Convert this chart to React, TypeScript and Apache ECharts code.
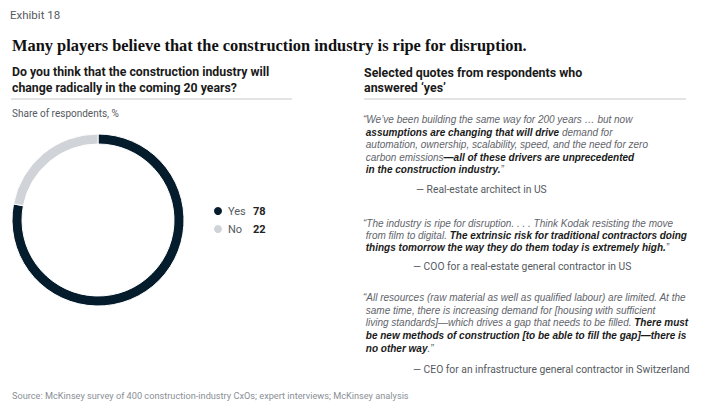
import React, { useEffect, useRef } from "react";
import * as echarts from "echarts";

const categories = ["Yes", "No"];
const shares = [78, 22];
const colors = ["#051c2c", "#d0d3d7"];

const exhibitLabel = "Exhibit 18";
const mainTitle = "Many players believe that the construction industry is ripe for disruption.";
const leftHeading = ["Do you think that the construction industry will", "change radically in the coming 20 years?"];
const unitLabel = "Share of respondents, %";
const rightHeading = ["Selected quotes from respondents who", "answered \u2018yes\u2019"];
const sourceNote = "Source: McKinsey survey of 400 construction-industry CxOs; expert interviews; McKinsey analysis";

// each quote: lines made of [style, text] segments; "n" = normal italic, "b" = bold italic
const quote1: [string, string][][] = [
  [["n", "\u201cWe\u2019ve been building the same way for 200 years \u2026 but now"]],
  [["b", " assumptions are changing that will drive"], ["n", " demand for"]],
  [["n", " automation, ownership, scalability, speed, and the need for zero"]],
  [["n", " carbon emissions"], ["b", "\u2014all of these drivers are unprecedented"]],
  [["b", " in the construction industry."], ["n", "\u201d"]],
];
const author1 = "\u2014 Real-estate architect in US";
const quote2: [string, string][][] = [
  [["n", "\u201cThe industry is ripe for disruption. . . . Think Kodak resisting the move"]],
  [["n", " from film to digital. "], ["b", "The extrinsic risk for traditional contractors doing"]],
  [["b", " things tomorrow the way they do them today is extremely high."], ["n", "\u201d"]],
];
const author2 = "\u2014 COO for a real-estate general contractor in US";
const quote3: [string, string][][] = [
  [["n", "\u201cAll resources (raw material as well as qualified labour) are limited. At the"]],
  [["n", " same time, there is increasing demand for [housing with sufficient"]],
  [["n", " living standards]\u2014which drives a gap that needs to be filled. "], ["b", "There must"]],
  [["b", " be new methods of construction [to be able to fill the gap]\u2014there is"]],
  [["b", " no other way"], ["n", ".\u201d"]],
];
const author3 = "\u2014 CEO for an infrastructure general contractor in Switzerland";

const SANS = "Roboto, 'Liberation Sans', Arial, sans-serif";
const QSANS = "'Liberation Sans', Arial, sans-serif";
const SERIF = "'Liberation Serif', 'DejaVu Serif', serif";

const rich = {
  n: { fontFamily: QSANS, fontStyle: "italic", fontSize: 10, fill: "#5f646b", color: "#5f646b" },
  b: { fontFamily: QSANS, fontStyle: "italic", fontWeight: "bold", fontSize: 10, fill: "#1a1a1a", color: "#1a1a1a" },
};

function quoteLines(lines: [string, string][][], x: number, y0: number, step: number) {
  return lines.map((segs, i) => ({
    type: "text",
    x,
    y: y0 + i * step,
    style: {
      text: segs.map(([k, t]) => `{${k}|${t}}`).join(""),
      rich,
      verticalAlign: "middle",
    },
  }));
}

function plainText(text: string, x: number, y: number, size: number, color: string, weight = "normal", family = SANS) {
  return {
    type: "text",
    x,
    y,
    style: { text, fontSize: size, fill: color, fontWeight: weight, fontFamily: family, verticalAlign: "middle" },
  };
}

export default function App() {
  const ref = useRef<HTMLDivElement>(null);
  useEffect(() => {
    if (!ref.current) return;
    const chart = echarts.init(ref.current, undefined, { renderer: "svg" });
    const valueOf: Record<string, number> = {};
    categories.forEach((c, i) => (valueOf[c] = shares[i]));
    chart.setOption({
      animation: false,
      backgroundColor: "#ffffff",
      legend: {
        orient: "vertical",
        left: 212,
        top: 205,
        icon: "circle",
        itemWidth: 10,
        itemHeight: 10,
        itemGap: 6,
        padding: 0,
        selectedMode: false,
        data: categories,
        formatter: (name: string) => `{n|${name}}{v|${valueOf[name]}}`,
        textStyle: {
          rich: {
            n: { fontFamily: SANS, fontSize: 11, color: "#555a60", width: 25 },
            v: { fontFamily: SANS, fontSize: 11, fontWeight: "bold", color: "#222" },
          },
        },
      },
      series: [
        {
          type: "pie",
          center: [98, 220],
          radius: [76, 86],
          startAngle: 90,
          clockwise: true,
          label: { show: false },
          labelLine: { show: false },
          emphasis: { disabled: true },
          itemStyle: { borderColor: "#ffffff", borderWidth: 1 },
          data: categories.map((c, i) => ({ name: c, value: shares[i], itemStyle: { color: colors[i] } })),
        },
      ],
      graphic: [
        plainText(exhibitLabel, 10, 15, 11.5, "#555a60"),
        plainText(mainTitle, 12, 45, 16.4, "#111", "bold", SERIF),
        plainText(leftHeading[0], 12, 72, 12.3, "#1a1a1a", "bold"),
        plainText(leftHeading[1], 12, 88, 12.3, "#1a1a1a", "bold"),
        { type: "line", shape: { x1: 11, y1: 99, x2: 292, y2: 99 }, style: { stroke: "#c8c8c8", lineWidth: 1 } },
        plainText(unitLabel, 12, 113, 10, "#555a60"),
        plainText(rightHeading[0], 364, 72, 12.4, "#1a1a1a", "bold"),
        plainText(rightHeading[1], 364, 87, 12.4, "#1a1a1a", "bold"),
        { type: "line", shape: { x1: 364, y1: 99, x2: 686, y2: 99 }, style: { stroke: "#c8c8c8", lineWidth: 1 } },
        ...quoteLines(quote1, 363, 119.5, 12.6),
        plainText(author1, 416, 189, 10.3, "#555a60"),
        ...quoteLines(quote2, 363, 223, 12.3),
        plainText(author2, 413, 266.5, 10.3, "#555a60"),
        ...quoteLines(quote3, 363, 297.3, 12.75),
        plainText(author3, 413, 369.5, 10.3, "#555a60"),
        plainText(sourceNote, 12, 395, 9.2, "#8a8f96"),
      ],
    });
    return () => chart.dispose();
  }, []);
  return (
    <div
      ref={ref}
      style={{ position: "fixed", left: 0, top: 0, width: 713, height: 420, background: "#fff" }}
    />
  );
}
